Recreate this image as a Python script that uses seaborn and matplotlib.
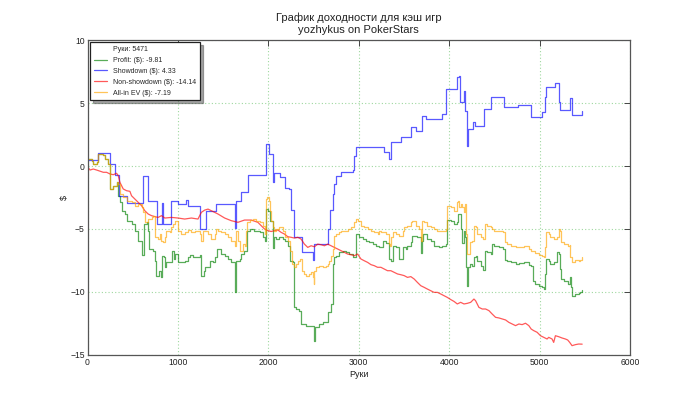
import matplotlib
matplotlib.use('Agg')
import matplotlib.pyplot as plt
import seaborn as sns
import pandas as pd
from matplotlib.lines import Line2D

# ---------------- data ----------------
total_hands = 5471
title_lines = ["График доходности для кэш игр", "yozhykus on PokerStars"]
x_label = "Руки"
y_label = "$"
x_ticks = [0, 1000, 2000, 3000, 4000, 5000, 6000]
y_ticks = [-15, -10, -5, 0, 5, 10]

# (hand, cumulative $) breakpoints
profit_points = [
    (0, 0.55), (46, 0.42), (64, 0.16), (101, 0.29), (119, 0.95), (175, 0.9), (193, 0.55), (230, 0.16),
    (248, -0.63), (252, -1.82), (285, -1.56), (322, -1.3), (340, -2.36), (359, -2.89), (377, -3.55),
    (414, -3.81), (432, -4.34), (487, -4.6), (524, -5.13), (561, -5.93), (598, -6.06), (605, -7.04),
    (627, -4.6), (653, -4.47), (664, -5.13), (678, -6.59), (726, -6.72), (745, -7.52), (763, -8.7),
    (789, -8.31), (811, -8.84), (825, -7.12), (847, -7.25), (855, -8.04), (873, -7.65), (921, -7.65),
    (936, -6.72), (958, -7.38), (972, -6.99), (1002, -7.65), (1039, -7.65), (1075, -7.52), (1112, -7.25),
    (1131, -7.04), (1167, -7.25), (1204, -7.2), (1241, -7.04), (1259, -8.7), (1289, -8.31), (1296, -8.04),
    (1333, -8.04), (1351, -7.52), (1388, -7.65), (1414, -7.25), (1436, -6.59), (1480, -6.99), (1517, -7.12),
    (1554, -7.38), (1590, -7.65), (1627, -7.78), (1634, -10.03), (1645, -7.52), (1682, -7.38), (1700, -6.99),
    (1730, -6.72), (1766, -5.13), (1792, -5.0), (1847, -5.13), (1903, -5.27), (1939, -5.67), (1958, -5.93),
    (1976, -3.42), (1995, -3.55), (2013, -4.34), (2024, -4.34), (2055, -6.5), (2061, -5.66), (2087, -5.8),
    (2123, -5.61), (2160, -5.8), (2186, -5.93), (2215, -6.33), (2245, -7.52), (2270, -7.65), (2282, -9.1),
    (2289, -11.22), (2307, -11.35), (2344, -11.48), (2362, -12.54), (2418, -12.67), (2473, -12.67),
    (2502, -13.07), (2510, -13.86), (2520, -12.8), (2565, -12.54), (2601, -12.41), (2638, -12.41),
    (2657, -11.62), (2693, -10.96), (2712, -7.78), (2730, -7.25), (2748, -7.12), (2785, -6.85), (2822, -6.72),
    (2859, -6.85), (2895, -6.99), (2932, -7.2), (2969, -5.4), (3006, -5.61), (3042, -5.8), (3079, -5.93),
    (3116, -6.06), (3153, -6.2), (3190, -6.33), (3226, -6.46), (3263, -5.93), (3300, -6.14), (3337, -7.38),
    (3355, -7.52), (3374, -6.33), (3410, -6.41), (3447, -7.38), (3466, -7.38), (3484, -6.46), (3521, -6.59),
    (3539, -6.33), (3576, -6.06), (3594, -5.53), (3649, -5.66), (3686, -6.94), (3704, -5.93), (3715, -5.4),
    (3760, -5.8), (3797, -5.93), (3833, -6.33), (3888, -6.46), (3925, -6.33), (3962, -6.2), (3973, -4.29),
    (4017, -4.39), (4054, -4.6), (4083, -4.47), (4098, -3.81), (4127, -5.0), (4145, -6.14), (4164, -5.13),
    (4171, -5.66), (4182, -8.04), (4193, -9.5), (4208, -8.04), (4230, -7.78), (4256, -7.91), (4274, -7.25),
    (4292, -7.12), (4311, -7.51), (4348, -7.91), (4377, -8.25), (4392, -6.72), (4421, -6.85), (4458, -6.98),
    (4476, -6.19), (4495, -6.32), (4550, -6.46), (4598, -6.59), (4613, -7.46), (4642, -7.51), (4679, -7.65),
    (4734, -7.78), (4771, -7.73), (4826, -7.65), (4881, -7.83), (4907, -7.91), (4929, -9.1), (4954, -9.37),
    (4991, -9.5), (5028, -9.63), (5046, -9.77), (5065, -8.57), (5076, -7.38), (5101, -7.51), (5120, -7.78),
    (5156, -7.65), (5193, -6.85), (5212, -6.98), (5223, -8.17), (5237, -8.97), (5267, -9.1), (5311, -9.37),
    (5333, -8.84), (5348, -9.63), (5359, -10.3), (5396, -10.16), (5432, -10.11), (5451, -10.03), (5471, -9.81),
]

showdown_points = [
    (0, 0.48), (120, 1.07), (248, 0.15), (300, -0.75), (350, -2.35), (432, -2.95), (616, -0.77), (671, -2.75),
    (774, -4.6), (825, -2.9), (835, -4.6), (921, -2.75), (1002, -3.02), (1094, -2.7), (1112, -3.15),
    (1248, -5.0), (1314, -3.55), (1425, -3.02), (1627, -4.9), (1645, -2.8), (1700, -2.09), (1774, -0.7),
    (1976, 1.75), (2009, 0.95), (2050, -1.3), (2062, -0.58), (2134, -0.9), (2186, -1.75), (2234, -1.85),
    (2252, -3.5), (2289, -5.6), (2370, -6.85), (2495, -7.5), (2505, -6.2), (2657, -5.0), (2680, -3.5),
    (2712, -2.2), (2730, -1.4), (2750, -0.8), (2800, -0.45), (2932, -0.32), (2950, 0.8), (2969, 1.5),
    (3282, 1.08), (3337, 0.55), (3355, 1.88), (3466, 2.27), (3576, 3.07), (3631, 2.8), (3697, 3.99),
    (3748, 3.73), (3925, 4.12), (3969, 6.11), (4090, 7.09), (4109, 7.17), (4116, 5.05), (4160, 5.98),
    (4175, 4.4), (4193, 1.61), (4208, 2.93), (4267, 3.46), (4281, 3.2), (4385, 4.52), (4458, 5.5),
    (4605, 4.71), (4760, 4.84), (4907, 3.86), (5028, 4.25), (5060, 5.5), (5076, 6.29), (5175, 6.56),
    (5212, 5.08), (5230, 4.44), (5333, 5.39), (5359, 4.07), (5471, 4.33),
]

nonshowdown_points = [
    (0, -0.05), (28, -0.32), (64, -0.24), (101, -0.32), (175, -0.5), (211, -0.5), (248, -0.63), (285, -0.69),
    (322, -0.58), (340, -0.77), (359, -1.3), (395, -1.82), (432, -1.96), (469, -2.01), (487, -2.36),
    (524, -2.62), (561, -2.89), (598, -3.15), (634, -3.55), (671, -3.81), (708, -3.94), (745, -4.02),
    (781, -4.08), (818, -3.94), (855, -4.13), (928, -4.08), (1002, -4.13), (1075, -4.21), (1149, -4.13),
    (1222, -4.21), (1259, -3.68), (1296, -3.5), (1333, -3.42), (1370, -3.55), (1443, -3.81), (1517, -4.13),
    (1590, -4.34), (1664, -4.47), (1737, -4.29), (1811, -4.29), (1884, -4.47), (1958, -5.0), (1995, -5.13),
    (2031, -5.2), (2068, -5.13), (2105, -5.08), (2142, -5.27), (2178, -5.4), (2215, -5.61), (2252, -5.66),
    (2289, -5.72), (2326, -5.66), (2362, -5.8), (2399, -6.2), (2436, -6.46), (2473, -6.33), (2510, -6.41),
    (2546, -6.2), (2583, -6.25), (2620, -6.33), (2657, -6.2), (2693, -6.33), (2730, -6.46), (2767, -6.59),
    (2804, -6.72), (2840, -6.85), (2877, -6.99), (2914, -7.04), (2951, -7.12), (2988, -6.99), (3024, -7.38),
    (3061, -7.52), (3098, -7.65), (3135, -7.83), (3171, -7.91), (3208, -8.04), (3245, -8.04), (3282, -8.18),
    (3318, -8.31), (3355, -8.31), (3392, -8.44), (3429, -8.57), (3466, -8.63), (3502, -8.7), (3539, -8.84),
    (3576, -8.78), (3613, -8.97), (3649, -9.24), (3686, -9.5), (3723, -9.63), (3760, -9.77), (3797, -9.9),
    (3833, -10.03), (3870, -10.03), (3907, -10.16), (3944, -10.3), (3980, -10.43), (4017, -10.6),
    (4054, -10.75), (4090, -10.95), (4127, -10.82), (4164, -10.95), (4201, -10.9), (4238, -10.82),
    (4274, -10.56), (4292, -10.69), (4329, -11.22), (4366, -11.35), (4403, -11.35), (4440, -11.48),
    (4476, -11.75), (4513, -12.01), (4550, -12.06), (4587, -12.14), (4624, -12.22), (4660, -12.41),
    (4697, -12.54), (4734, -12.67), (4771, -12.54), (4807, -12.59), (4844, -12.48), (4881, -12.67),
    (4907, -12.94), (4936, -13.07), (4973, -13.2), (5010, -13.47), (5046, -13.6), (5083, -13.73),
    (5101, -13.6), (5138, -13.73), (5156, -14.0), (5175, -13.47), (5212, -13.55), (5248, -13.65),
    (5285, -13.73), (5311, -13.81), (5333, -14.0), (5359, -14.26), (5396, -14.18), (5432, -14.13),
    (5471, -14.14),
]

allin_points = [
    (0, 0.55), (46, 0.42), (64, 0.16), (101, 0.29), (119, 0.95), (175, 0.9), (193, 0.55), (230, 0.16),
    (248, -0.63), (252, -1.82), (285, -1.56), (322, -1.3), (340, -1.43), (359, -2.22), (395, -2.49),
    (432, -2.76), (487, -2.89), (524, -3.15), (561, -3.02), (598, -3.28), (616, -3.68), (634, -4.47),
    (671, -4.21), (708, -4.08), (726, -3.94), (745, -5.13), (752, -5.66), (781, -5.8), (800, -5.4),
    (818, -5.93), (836, -6.06), (855, -5.66), (873, -5.13), (910, -5.27), (928, -4.87), (947, -4.6),
    (965, -4.34), (1002, -5.13), (1039, -5.4), (1075, -5.27), (1112, -5.08), (1149, -5.27), (1186, -5.13),
    (1222, -5.13), (1241, -5.4), (1259, -5.93), (1278, -5.13), (1314, -5.13), (1333, -5.4), (1370, -5.8),
    (1406, -5.4), (1425, -5.0), (1443, -5.13), (1480, -5.27), (1517, -5.4), (1554, -5.66), (1590, -5.93),
    (1627, -6.33), (1645, -5.13), (1660, -5.93), (1682, -6.72), (1719, -6.2), (1737, -6.33), (1756, -5.13),
    (1766, -4.47), (1792, -4.29), (1829, -4.21), (1866, -4.34), (1903, -4.47), (1939, -4.74), (1965, -5.4),
    (1976, -2.62), (1987, -2.49), (2002, -2.76), (2013, -3.55), (2031, -4.34), (2050, -4.87), (2068, -5.13),
    (2087, -5.0), (2123, -4.87), (2160, -5.13), (2186, -5.66), (2215, -5.93), (2245, -6.72), (2259, -7.78),
    (2289, -8.04), (2307, -7.78), (2326, -7.52), (2355, -7.38), (2370, -8.31), (2392, -8.57), (2418, -8.7),
    (2454, -8.57), (2473, -8.44), (2491, -8.84), (2502, -9.37), (2510, -8.31), (2528, -8.04), (2565, -7.91),
    (2601, -7.99), (2638, -7.91), (2657, -7.78), (2675, -7.52), (2693, -7.12), (2712, -6.59), (2723, -5.53),
    (2748, -5.4), (2785, -5.27), (2804, -5.13), (2840, -5.13), (2877, -5.0), (2914, -4.87), (2932, -4.87),
    (2951, -4.47), (2969, -4.21), (2995, -4.34), (3024, -4.74), (3061, -4.87), (3098, -5.0), (3135, -5.13),
    (3171, -5.27), (3208, -5.4), (3226, -5.13), (3245, -5.27), (3263, -5.27), (3300, -5.4), (3337, -6.2),
    (3348, -6.33), (3355, -5.66), (3374, -5.27), (3410, -5.4), (3447, -5.53), (3466, -5.53), (3484, -5.13),
    (3502, -4.87), (3539, -4.74), (3576, -4.47), (3594, -4.34), (3631, -4.74), (3668, -5.0), (3686, -5.93),
    (3704, -4.34), (3723, -4.47), (3760, -4.74), (3797, -4.87), (3833, -5.0), (3870, -5.13), (3925, -5.13),
    (3962, -5.0), (3973, -3.15), (4017, -3.28), (4054, -3.55), (4083, -2.89), (4098, -2.76), (4109, -3.28),
    (4127, -3.02), (4145, -3.28), (4164, -3.68), (4171, -3.02), (4182, -5.4), (4193, -6.99), (4208, -6.99),
    (4230, -6.06), (4256, -5.93), (4274, -4.74), (4292, -4.87), (4311, -5.4), (4348, -5.66), (4377, -5.8),
    (4392, -4.6), (4421, -4.74), (4458, -4.87), (4476, -5.0), (4495, -5.13), (4550, -5.19), (4598, -5.27),
    (4613, -6.06), (4642, -6.19), (4679, -6.33), (4734, -6.46), (4771, -6.41), (4826, -6.35), (4881, -6.59),
    (4907, -6.72), (4954, -6.94), (4991, -7.04), (5028, -7.12), (5046, -7.25), (5065, -6.46), (5076, -5.27),
    (5101, -5.4), (5120, -5.66), (5156, -5.8), (5193, -5.66), (5212, -5.0), (5223, -5.13), (5237, -6.06),
    (5267, -6.19), (5311, -6.33), (5333, -6.25), (5340, -7.25), (5359, -7.65), (5396, -7.46), (5432, -7.51),
    (5451, -7.44), (5471, -7.19),
]

series_names = ["Profit: ($): -9.81", "Showdown ($): 4.33", "Non-showdown ($): -14.14", "All-in EV ($): -7.19"]
series_points = [profit_points, showdown_points, nonshowdown_points, allin_points]
series_colors = ["#008000", "#0000ff", "#ff0000", "#ffa500"]
series_draw = ["steps-post", "steps-post", "default", "steps-post"]

# ---------------- figure ----------------
sns.set_style("white")
plt.rcParams['font.family'] = ['Liberation Sans', 'DejaVu Sans']

fig = plt.figure(figsize=(7.0, 3.95), dpi=100)
ax = fig.add_axes([0.125, 0.1013, 0.775, 0.7974])

handles = [Line2D([], [], color='none')]
labels = [f"Руки: {total_hands}"]
for name, pts, col, ds in zip(series_names, series_points, series_colors, series_draw):
    df = pd.DataFrame(pts, columns=["hands", "val"])
    sns.lineplot(data=df, x="hands", y="val", ax=ax, color=col, linewidth=0.9, alpha=0.65,
                 drawstyle=ds, estimator=None, sort=False, legend=False)
    handles.append(Line2D([], [], color=col, linewidth=0.9, alpha=0.65))
    labels.append(name)

ax.set_xlim(0, 6000)
ax.set_ylim(-15, 10)
ax.set_xticks(x_ticks)
ax.set_yticks(y_ticks)
ax.set_yticklabels([f"{t}".replace('-', '\u2212') for t in y_ticks])
ax.grid(True, color='#9fd89f', linestyle=(0, (1, 2)), linewidth=0.8)
ax.tick_params(direction='in', top=True, right=True, length=4, width=0.7,
               labelsize=6.2, colors='#444444', labelcolor='#222222', pad=2)
for sp in ax.spines.values():
    sp.set_color('#555555')
    sp.set_linewidth(0.9)

ax.set_xlabel(x_label, fontsize=6.5, labelpad=2, color='#222222')
ax.set_ylabel(y_label, fontsize=6.5, labelpad=1, color='#222222')
ax.set_title("\n".join(title_lines), fontsize=8, pad=5, color='#222222', linespacing=1.3)

leg = ax.legend(handles, labels, loc='upper left', fontsize=5, shadow=True, fancybox=False,
                framealpha=1, edgecolor='#222222', borderaxespad=0.35, handlelength=1.9,
                handletextpad=0.9, labelspacing=0.55, borderpad=0.55)
leg.get_frame().set_linewidth(0.9)

fig.savefig("out.png", dpi=100)
